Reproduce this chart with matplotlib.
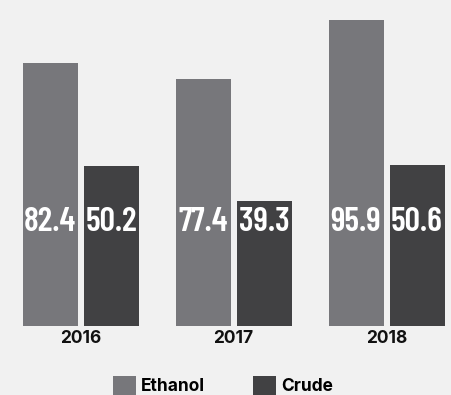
import matplotlib
matplotlib.use("Agg")
import matplotlib.pyplot as plt
import numpy as np

# values per year
years = ["2016", "2017", "2018"]
ethanol = [82.4, 77.4, 95.9]
crude = [50.2, 39.3, 50.6]

BG = "#f1f1f1"
ETH_COLOR = "#77777b"
CRUDE_COLOR = "#414143"

W, H = 451, 395
fig = plt.figure(figsize=(W / 100, H / 100), dpi=100, facecolor=BG)

# axes cover from the baseline up to the top edge
base_px = 326
ax = fig.add_axes([0, (H - base_px) / H, 1, base_px / H])
ax.set_facecolor(BG)

px_per_unit = 3.19
ax.set_ylim(0, base_px / px_per_unit)
spacing = 153.0
x0 = 80.5
ax.set_xlim(-x0 / spacing, (W - x0) / spacing)

x = np.arange(len(years))
width = 55 / spacing
off = 30.5 / spacing

ax.bar(x - off, ethanol, width, color=ETH_COLOR, label="Ethanol")
ax.bar(x + off, crude, width, color=CRUDE_COLOR, label="Crude")

# value labels inside the bars
label_y = 95 / px_per_unit
for xi, e, c in zip(x, ethanol, crude):
    for pos, v in ((xi - off, e), (xi + off, c)):
        ax.text(pos, label_y, f"{v:.1f}", ha="center", va="baseline",
                color="white", fontsize=24.5, fontweight=600,
                family="Barlow Condensed")

ax.set_xticks(x)
ax.set_xticklabels(years, fontsize=12.5, fontweight="bold", family="Inter", color="#111111")
ax.tick_params(axis="x", length=0, pad=3)
ax.set_yticks([])
for s in ax.spines.values():
    s.set_visible(False)

handles, labels = ax.get_legend_handles_labels()
leg = fig.legend(handles, labels, loc="upper left",
                 bbox_to_anchor=(97 / W, 1 - 360 / H), ncol=2, frameon=False,
                 prop={"family": "Inter", "weight": "bold", "size": 12.5},
                 handlelength=1.32, handleheight=1.32, handletextpad=0.3,
                 columnspacing=2.8)

fig.savefig("out.png", dpi=100, facecolor=BG)
